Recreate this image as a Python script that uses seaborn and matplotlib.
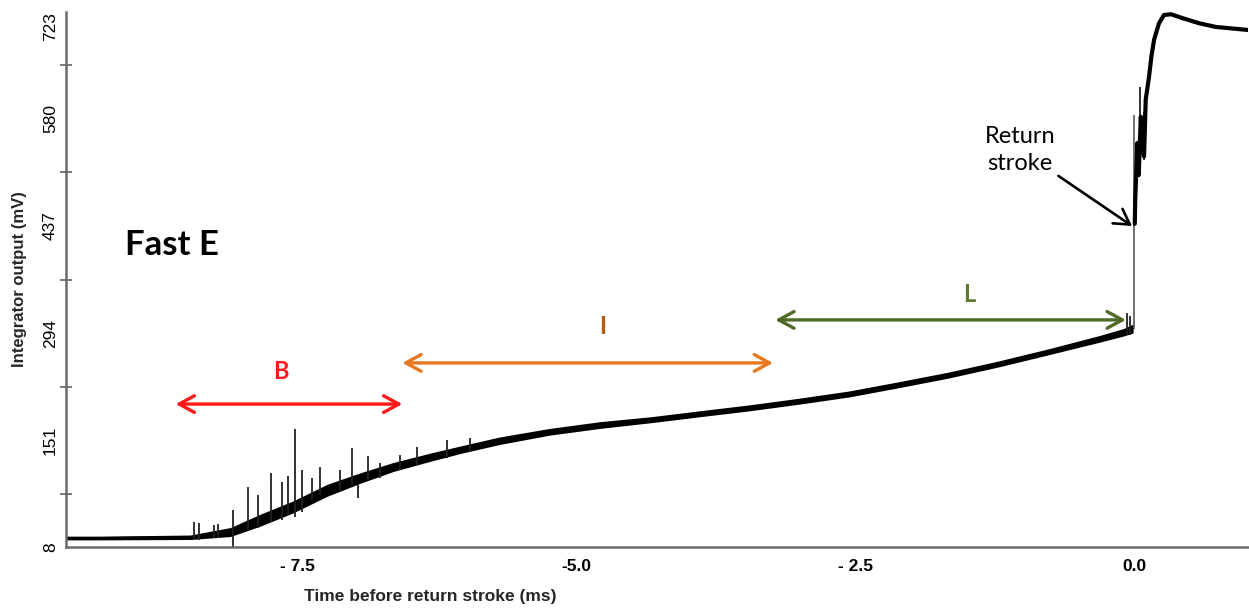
import numpy as np
import pandas as pd
import matplotlib
matplotlib.use("Agg")
import matplotlib.pyplot as plt
import seaborn as sns

# Integrator trace before the return stroke (time in ms, level in mV)
pre_time_ms = [-9.575, -9.26, -8.46, -8.10, -7.83, -7.54, -7.23, -6.94, -6.64,
               -6.31, -6.04, -5.69, -5.24, -4.79, -4.34, -3.90, -3.45, -3.00,
               -2.56, -2.11, -1.66, -1.21, -0.77, -0.32, -0.10, -0.015]
pre_level_mv = [20, 20, 21, 28, 44, 61.5, 84, 100, 115,
                128, 138, 150, 162, 171, 178, 186, 194, 203,
                212.5, 225, 238, 253, 269, 286, 295, 300]
# half-width of the noise band around the trace (mV)
pre_noise_mv = [2.5, 2.5, 3, 6, 8, 8, 8, 7, 6,
                5.5, 5, 5, 4.5, 4.5, 4, 4, 4, 4,
                4, 4, 4, 4, 4, 4.5, 5, 6]

# Trace after the return stroke
post_time_ms = [0.000, 0.004, 0.023, 0.035, 0.054, 0.070, 0.083, 0.098, 0.128,
                0.150, 0.173, 0.217, 0.262, 0.325, 0.423, 0.575, 0.727, 0.870, 1.014]
post_level_mv = [440, 472, 548, 505, 583, 545, 530, 606, 637,
                 665, 686, 708, 719, 720, 715, 708, 703, 701, 699]

# Isolated pulses on top of the trace: time, low, high (mV)
pulse_t = [-8.43, -8.38, -8.25, -8.21, -8.08, -7.94, -7.85, -7.74, -7.64, -7.58,
           -7.52, -7.46, -7.37, -7.30, -7.12, -7.01, -6.96, -6.87, -6.76, -6.58,
           -6.43, -6.16, -5.95, -0.07, -0.04, 0.05, 0.08]
pulse_lo = [17.4, 17.4, 20, 20, 8, 30.7, 33.4, 41.4, 44, 50.8,
            48, 54.8, 70.8, 77.5, 84, 91, 73.5, 97.6, 100, 111,
            117.6, 127, 135, 291, 291, 560, 525]
pulse_hi = [41.4, 40, 37.4, 38.7, 57.5, 88, 77.5, 107, 95, 103,
            166, 111, 100, 115, 111, 140, 91, 130, 120, 131,
            142, 151, 154, 321, 317, 623, 590]

# Return-stroke step
step_t = -0.008
step_lo, step_hi = 300, 585

# Phase intervals (ms) and their arrow heights (mV)
phase_names = ["B", "I", "L"]
phase_start = [-8.59, -6.56, -3.22]
phase_end = [-6.56, -3.24, -0.08]
phase_level = [199, 254, 311.5]
phase_label_t = [-7.65, -4.77, -1.48]
phase_label_mv = [242, 303, 345]
phase_arrow_colors = ["#FF1A1A", "#E8781F", "#4F6B28"]
phase_text_colors = ["#FF1A1A", "#B85C14", "#5E7A32"]

x_ticks = [-7.5, -5.0, -2.5, 0.0]
x_tick_labels = ["- 7.5", "-5.0", "- 2.5", "0.0"]
y_ticks = [8, 151, 294, 437, 580, 723]

sns.set_theme(style="white")
plt.rcParams["font.family"] = ["Liberation Sans", "DejaVu Sans"]

fig = plt.figure(figsize=(12.49, 6.09), dpi=100)
ax = fig.add_axes([0.0526, 0.1018, 0.9466, 0.8785])

pre = pd.DataFrame({"t": pre_time_ms, "mv": pre_level_mv, "hw": pre_noise_mv})
post = pd.DataFrame({"t": post_time_ms, "mv": post_level_mv})

ax.fill_between(pre["t"], pre["mv"] - pre["hw"], pre["mv"] + pre["hw"],
                color="black", lw=0)
sns.lineplot(data=pre, x="t", y="mv", ax=ax, color="black", lw=1.5,
             estimator=None, sort=False)
ax.vlines(pulse_t, pulse_lo, pulse_hi, color="#222222", lw=1.3)
ax.vlines([step_t], [step_lo], [step_hi], color="#555555", lw=1.2)
sns.lineplot(data=post, x="t", y="mv", ax=ax, color="black", lw=3.0,
             estimator=None, sort=False)

# Phase arrows and labels
for name, s, e, lvl, lt, lm, ac, tc in zip(phase_names, phase_start, phase_end,
                                           phase_level, phase_label_t,
                                           phase_label_mv, phase_arrow_colors,
                                           phase_text_colors):
    ax.annotate("", xy=(e, lvl), xytext=(s, lvl),
                arrowprops=dict(arrowstyle="<->,head_length=0.55,head_width=0.3",
                                lw=2.4, color=ac, mutation_scale=20,
                                shrinkA=0, shrinkB=0))
    ax.text(lt, lm, name, color=tc, fontsize=17, fontweight="bold",
            family=["Lato", "DejaVu Sans"], ha="center", va="center")

ax.text(-9.04, 412, "Fast E", fontsize=25, fontweight="bold",
        family=["Lato", "DejaVu Sans"], ha="left", va="center", color="black")

ax.annotate("Return\nstroke", xy=(-0.024, 437), xytext=(-1.03, 539),
            fontsize=17, family=["Lato", "DejaVu Sans"], ha="center",
            va="center", color="black", linespacing=1.35,
            arrowprops=dict(arrowstyle="->,head_length=0.6,head_width=0.35",
                            lw=1.9, color="black", mutation_scale=18,
                            shrinkA=0, shrinkB=0,
                            relpos=(1.0, 0.0)))

ax.set_xlim(-9.575, 1.014)
ax.set_ylim(8, 723)
ax.set_xticks(x_ticks)
ax.set_xticklabels(x_tick_labels, fontweight="bold", fontsize=12.5)
ax.set_yticks(y_ticks)
ax.set_yticklabels([str(v) for v in y_ticks], rotation=90, va="center",
                   fontsize=12.5)
# keep the top label inside the figure
ax.get_yticklabels()[-1].set_va("top")
ax.set_yticks([(a + b) / 2 for a, b in zip(y_ticks[:-1], y_ticks[1:])],
              minor=True)

ax.tick_params(axis="x", which="major", direction="inout", length=11,
               width=1.3, color="#444444", pad=3, labelcolor="black")
ax.tick_params(axis="y", which="major", direction="inout", length=11,
               width=1.3, color="#555555", pad=0, labelcolor="black")
ax.tick_params(axis="y", which="minor", direction="inout", length=9,
               width=1.1, color="#555555", left=True)

for side in ["top", "right"]:
    ax.spines[side].set_visible(False)
for side in ["left", "bottom"]:
    ax.spines[side].set_color("#6B6B6B")
    ax.spines[side].set_linewidth(1.8)

ax.set_xlabel("Time before return stroke (ms)", fontsize=12.5,
              fontweight="bold")
ax.xaxis.set_label_coords(0.308, -0.078)
ax.set_ylabel("Integrator output (mV)", fontsize=12, fontweight="bold")
ax.yaxis.set_label_coords(-0.033, 0.5)
ax.grid(False)

fig.savefig("out.png", dpi=100)
